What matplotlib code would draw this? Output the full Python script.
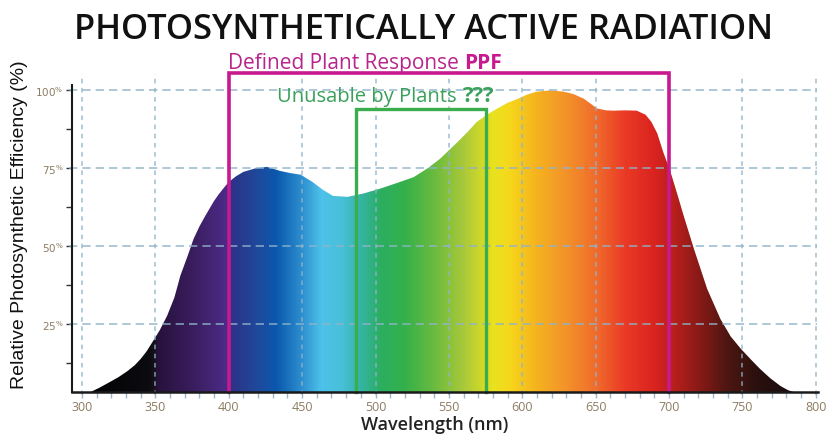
import numpy as np
import matplotlib
matplotlib.use("Agg")
import matplotlib.pyplot as plt
from matplotlib.colors import LinearSegmentedColormap
from matplotlib.ticker import FixedLocator, FuncFormatter

# ---- data ----
wavelength = [305, 312, 319, 325, 331, 336, 340, 344, 348, 353, 358, 363, 367, 372, 376, 380,
              384, 387, 390, 393, 396, 399, 402, 405, 410, 418,
              426, 435, 442, 449, 457, 464, 471, 481, 492, 503, 515, 526, 536, 544, 550,
              556, 563, 569, 576, 583, 590, 597, 603, 610, 619, 628, 635, 642, 651, 657,
              662, 670, 678, 684, 688, 692, 696, 701, 706, 710, 717, 726, 735, 742, 749,
              756, 762, 769, 776, 781, 786]
efficiency = [3.0, 4.6, 6.4, 8.0, 9.9, 11.8, 13.8, 16.2, 19.2, 23.0, 27.6, 33.5, 40.4, 46.8, 52.2, 56.2,
              59.6, 62.0, 64.4, 66.4, 68.2, 69.9, 71.2, 72.3, 73.7, 74.8,
              75.3, 74.0, 73.3, 72.8, 70.5, 68.0, 66.0, 65.7, 66.8, 68.3, 70.2, 72.0, 75.0, 77.9, 80.6,
              83.3, 86.6, 89.7, 92.0, 94.0, 95.8, 97.1, 98.4, 99.4, 99.8, 99.4, 98.6, 97.1, 94.0, 93.4,
              93.3, 93.4, 93.3, 92.0, 89.7, 86.0, 80.1, 73.7, 66.0, 59.6, 49.0, 36.2, 26.6, 21.0, 17.0,
              13.5, 10.6, 7.6, 5.1, 3.8, 3.0]

x_ticks = [300, 350, 400, 450, 500, 550, 600, 650, 700, 750, 800]
y_ticks = [25, 50, 75, 100]
y_minor = [12.5, 37.5, 62.5, 87.5]

ppf_range = (400, 700)
unusable_range = (487, 575)
ppf_top = 105.5
unusable_top = 93.9

spectrum_stops = [
    (293, "#000000"), (345, "#0c0b10"), (348.5, "#141018"), (351, "#26123a"),
    (375, "#3a1d5e"), (397, "#4b2a86"), (403, "#2c3488"), (420, "#1f4a9c"),
    (432, "#0a58ae"), (450, "#2e90d0"), (463, "#4ec2ea"), (477, "#48c0d8"),
    (489, "#36b5a8"), (503, "#2cae62"), (520, "#34b14a"), (540, "#6bbb3f"),
    (560, "#a9c93a"), (580, "#eae21e"), (592, "#f6d61b"), (610, "#f5b21f"),
    (630, "#f3922a"), (650, "#f06c2c"), (670, "#ea3a26"), (690, "#d9231f"),
    (705, "#b41f1c"), (720, "#8a1a17"), (740, "#4c1612"), (760, "#2a100e"),
    (790, "#150c0c"), (801, "#100a0a"),
]

W, H = 827, 435
fig = plt.figure(figsize=(W / 100, H / 100), dpi=100)
ax = fig.add_axes([72 / W, 1 - 393 / H, (818 - 72) / W, (393 - 72) / H])

xmin, xmax = 293.2, 801.5
ymin, ymax = 3.2, 106.0
ax.set_xlim(xmin, xmax)
ax.set_ylim(ymin, ymax)

# gradient fill clipped to the curve
lo, hi = spectrum_stops[0][0], spectrum_stops[-1][0]
cmap = LinearSegmentedColormap.from_list(
    "spec", [((w - lo) / (hi - lo), c) for w, c in spectrum_stops], N=1024)
grad = np.linspace(lo, hi, 1200).reshape(1, -1)
im = ax.imshow(grad, extent=[lo, hi, 0, 110], aspect="auto", cmap=cmap,
               vmin=lo, vmax=hi, interpolation="bilinear", origin="lower", zorder=1)
poly = ax.fill_between(wavelength, 0, efficiency, facecolor="none", edgecolor="none")
clip = poly.get_paths()[0]
im.set_clip_path(clip, transform=ax.transData)

# grid
gcol = "#8fb3c9"
for y in y_ticks:
    ax.plot([xmin - 2, 800.5], [y, y], color=gcol, lw=1.2, ls=(0, (5, 3)), alpha=0.85,
            zorder=2, clip_on=False)
for x in x_ticks:
    ax.plot([x, x], [ymin - 1.0, 105.0], color=gcol, lw=1.1, ls=(0, (3, 3)), alpha=0.85,
            zorder=2, clip_on=False)

# boxes
mag = "#c8198f"
grn = "#3aae4c"
ax.plot([ppf_range[0], ppf_range[0], ppf_range[1], ppf_range[1]],
        [ymin, ppf_top, ppf_top, ymin], color=mag, lw=2.6, zorder=4, clip_on=False,
        solid_joinstyle="miter")
ax.plot([unusable_range[0], unusable_range[0], unusable_range[1], unusable_range[1]],
        [ymin, unusable_top, unusable_top, ymin], color=grn, lw=2.4, zorder=4,
        clip_on=False, solid_joinstyle="miter")

# spines
for s in ["top", "right"]:
    ax.spines[s].set_visible(False)
ax.spines["left"].set_color("#1a1a1a")
ax.spines["bottom"].set_color("#1a1a1a")
ax.spines["left"].set_linewidth(1.5)
ax.spines["bottom"].set_linewidth(1.8)
ax.spines["left"].set_bounds(ymin, 101.6)
ax.spines["bottom"].set_zorder(5)

# ticks
tcol = "#8c7b62"
ax.set_xticks(x_ticks)
ax.xaxis.set_minor_locator(FixedLocator([v for v in range(300, 801, 10) if v % 50]))
ax.tick_params(axis="x", which="both", direction="out", length=4, width=1,
               color="#9fb7c7", labelsize=9, labelcolor=tcol, pad=2)
ax.set_yticks(y_ticks)
ax.yaxis.set_minor_locator(FixedLocator(y_minor))
ax.yaxis.set_major_formatter(FuncFormatter(lambda v, p: r"%d$^{\%%}$" % v))
ax.tick_params(axis="y", which="both", direction="out", length=4, width=1,
               color="#333333", labelsize=7.5, labelcolor=tcol, pad=2)
for lab in ax.get_xticklabels():
    lab.set_family("Open Sans")

fig.text(435 / W, 1 - 425 / H, "Wavelength (nm)", ha="center", va="center",
         fontsize=13, color="#222222", family="Open Sans", fontweight="semibold")
fig.text(20 / W, 1 - 225 / H, "Relative Photosynthetic Efficiency (%)", rotation=90,
         ha="center", va="center", fontsize=14, family="Liberation Sans", color="#111111")

# title
fig.text(424 / W, 1 - 30 / H, "PHOTOSYNTHETICALLY ACTIVE RADIATION", ha="center",
         va="center", fontsize=24.8, fontweight="semibold", family="Open Sans",
         color="#111111")

# annotations with mixed weights
fig.canvas.draw()
r = fig.canvas.get_renderer()
t1 = fig.text(228 / W, 1 - 69 / H, "Defined Plant Response", ha="left", va="baseline",
              fontsize=15, family="Open Sans", color="#b8258c", fontweight="medium")
bb = t1.get_window_extent(r)
fig.text((bb.x1 + 5) / W, 1 - 69 / H, "PPF", ha="left", va="baseline", fontsize=15,
         family="Open Sans", color="#c8198f", fontweight="bold")
t2 = fig.text(277 / W, 1 - 102 / H, "Unusable by Plants", ha="left", va="baseline",
              fontsize=14.5, family="Open Sans", color="#3aa05a", fontweight="medium",
              zorder=6)
bb2 = t2.get_window_extent(r)
fig.text((bb2.x1 + 6) / W, 1 - 102 / H, "???", ha="left", va="baseline", fontsize=16,
         family="Open Sans", color="#3aa05a", fontweight="bold", zorder=6)

fig.savefig("out.png", dpi=100)
